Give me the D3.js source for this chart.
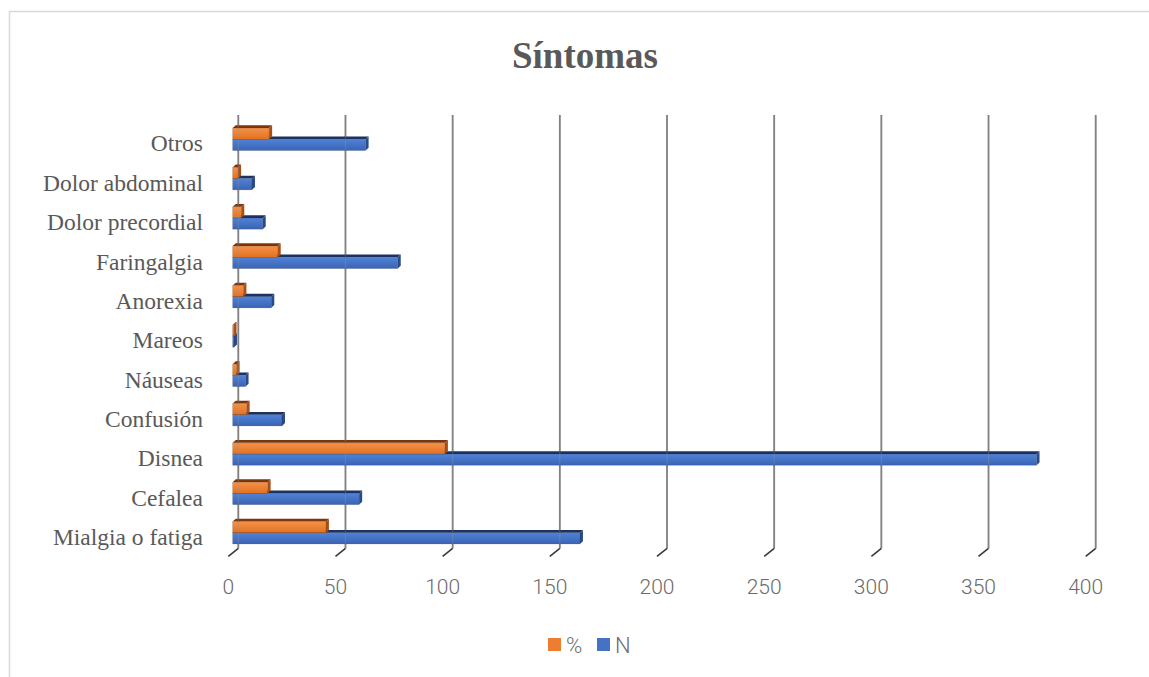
<!DOCTYPE html>
<html>
<head>
<meta charset="utf-8">
<script src="https://cdn.jsdelivr.net/npm/d3@7"></script>
<style>
  html, body { margin: 0; padding: 0; background: #ffffff; }
  svg { display: block; }
</style>
</head>
<body>
<svg id="chart" width="1149" height="677"></svg>
<script>
// ---------- data ----------
const categories = ["Otros", "Dolor abdominal", "Dolor precordial", "Faringalgia", "Anorexia",
  "Mareos", "Náuseas", "Confusión", "Disnea", "Cefalea", "Mialgia o fatiga"];
const seriesNames = ["%", "N"];
const pctValues = [17, 2.5, 4, 21, 5, 0.4, 1.8, 6.5, 99, 16.3, 43.5];
const nValues   = [62, 9, 14, 77, 18, 0.6, 6, 23, 375, 59, 162];
const xTicks = [0, 50, 100, 150, 200, 250, 300, 350, 400];
const titleText = "Síntomas";

// ---------- layout ----------
const svg = d3.select("#chart");
const depthFloor = { dx: -10, dy: 8 };   // front edge of floor vs back wall
const barFront  = { dx: -5.6, dy: 4 };   // bars' front face vs back wall
const barDepth  = { dx: 3, dy: -2.8 };   // extrusion of bars

const x = d3.scaleLinear().domain([0, 400]).range([238.3, 1095.7]);
const y = d3.scaleBand().domain(categories).range([115.6, 548.4])
  .paddingInner(0.43).paddingOuter(0.215);
const ySub = d3.scaleBand().domain(seriesNames).range([0, y.bandwidth()]);

const colors = { "%": "#ED7D31", "N": "#4472C4" };
const topCol = { "%": "#7d360c", "N": "#1c3260" };
const sideCol = { "%": "#a84f17", "N": "#2a4b88" };

// frame
svg.append("rect").attr("x", 9.5).attr("y", 11.5).attr("width", 1300).attr("height", 800)
  .attr("fill", "#fff").attr("stroke", "#d9d9d9").attr("stroke-width", 1.5);

// gradients
const defs = svg.append("defs");
function grad(id, c1, c2) {
  const g = defs.append("linearGradient").attr("id", id).attr("x1", 0).attr("y1", 0).attr("x2", 0).attr("y2", 1);
  g.append("stop").attr("offset", "0%").attr("stop-color", c1);
  g.append("stop").attr("offset", "100%").attr("stop-color", c2);
}
grad("gPct", "#f39248", "#e4701f");
grad("gN", "#5082d6", "#3a64b4");

// title
svg.append("text").attr("x", 585).attr("y", 68).attr("text-anchor", "middle")
  .attr("font-family", "'Liberation Serif', 'Times New Roman', serif")
  .attr("font-weight", "bold").attr("font-size", 37).attr("fill", "#595959")
  .text(titleText);

// gridlines (back wall) + floor diagonals
const yTop = y.range()[0], yBot = y.range()[1];
const grid = svg.append("g");
xTicks.forEach(t => {
  const gx = x(t);
  grid.append("line").attr("x1", gx).attr("x2", gx).attr("y1", yTop - 0.5).attr("y2", yBot)
    .attr("stroke", "#7a7a7a").attr("stroke-width", 1.8);
  grid.append("line").attr("x1", gx).attr("x2", gx + depthFloor.dx).attr("y1", yBot).attr("y2", yBot + depthFloor.dy)
    .attr("stroke", "#3a3a3a").attr("stroke-width", 1.6);
});

// bars
const bars = svg.append("g");
const seriesData = { "%": pctValues, "N": nValues };
["N", "%"].forEach(s => {
  categories.forEach((c, i) => {
    const v = seriesData[s][i];
    const x0 = x(0) + barFront.dx;
    const xe = x(v) + barFront.dx;
    const yt = y(c) + ySub(s) + barFront.dy;
    const h = ySub.bandwidth();
    const g = bars.append("g");
    g.append("polygon")
      .attr("points", [[x0, yt], [x0 + barDepth.dx, yt + barDepth.dy], [xe + barDepth.dx, yt + barDepth.dy], [xe, yt]].map(p => p.join(",")).join(" "))
      .attr("fill", topCol[s]);
    g.append("polygon")
      .attr("points", [[xe, yt], [xe + barDepth.dx, yt + barDepth.dy], [xe + barDepth.dx, yt + h + barDepth.dy], [xe, yt + h]].map(p => p.join(",")).join(" "))
      .attr("fill", sideCol[s]);
    g.append("rect").attr("x", x0).attr("y", yt).attr("width", Math.max(0, xe - x0)).attr("height", h)
      .attr("fill", s === "%" ? "url(#gPct)" : "url(#gN)")
      .attr("stroke", "rgba(0,0,0,0.25)").attr("stroke-width", 0.6);
  });
});

// faint gridline overlay across bars
xTicks.forEach(t => {
  const gx = x(t);
  svg.append("line").attr("x1", gx).attr("x2", gx).attr("y1", yTop).attr("y2", yBot)
    .attr("stroke", "#9a9a9a").attr("stroke-width", 1.2).attr("opacity", 0.3);
});

// category labels
svg.append("g").selectAll("text").data(categories).join("text")
  .attr("x", 203)
  .attr("y", c => y(c) + y.bandwidth() / 2 + depthFloor.dy)
  .attr("dy", "0.35em")
  .attr("text-anchor", "end")
  .attr("font-family", "'Liberation Serif', 'Times New Roman', serif")
  .attr("font-size", 23.5).attr("fill", "#595959")
  .text(d => d);

// x tick labels (front edge)
svg.append("g").selectAll("text").data(xTicks).join("text")
  .attr("x", d => x(d) + depthFloor.dx)
  .attr("y", 587).attr("dy", "0.35em")
  .attr("text-anchor", "middle")
  .attr("font-family", "Roboto, 'Open Sans', sans-serif")
  .attr("font-weight", 300).attr("font-size", 21).attr("fill", "#6b6b6b")
  .text(d => d);

// legend
const leg = svg.append("g");
const legendItems = [{ s: "%", x: 548 }, { s: "N", x: 597 }];
legendItems.forEach(it => {
  leg.append("rect").attr("x", it.x).attr("y", 638).attr("width", 13).attr("height", 13).attr("fill", colors[it.s]);
  leg.append("text").attr("x", it.x + 18).attr("y", 645).attr("dy", "0.35em")
    .attr("font-family", "Roboto, 'Open Sans', sans-serif")
    .attr("font-weight", 300).attr("font-size", 22).attr("fill", "#6b6b6b")
    .text(it.s);
});
</script>
</body>
</html>
